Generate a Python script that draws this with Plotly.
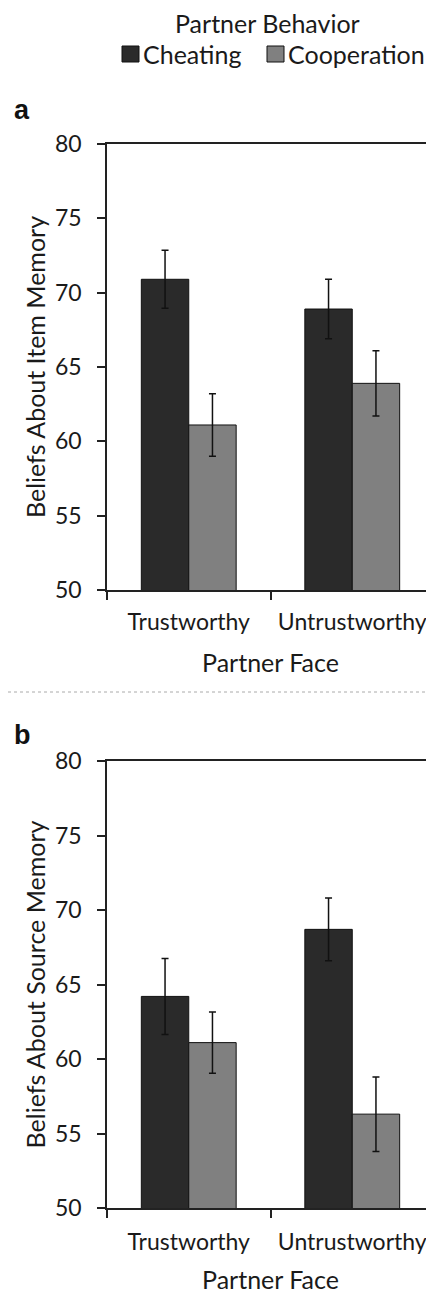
import plotly.graph_objects as go

faces = ["Trustworthy", "Untrustworthy"]
behaviors = ["Cheating", "Cooperation"]

item_cheating = [70.9, 68.9]
item_cheating_err = [1.95, 2.0]
item_coop = [61.1, 63.9]
item_coop_err = [2.1, 2.2]

source_cheating = [64.2, 68.7]
source_cheating_err = [2.55, 2.1]
source_coop = [61.1, 56.3]
source_coop_err = [2.05, 2.5]

y_ticks = [50, 55, 60, 65, 70, 75, 80]

colors = {"Cheating": "#2a2a2a", "Cooperation": "#808080"}
FONT = "Lato"
FS = 25
# page body has an 8px default margin, so the figure is offset by 8px
OFF = 8
W, H = 434 - OFF, 1294 - OFF


def px(x):
    return max(0.0, (x - OFF) / W)


def py(y):
    return 1 - (y - OFF) / H


fig = go.Figure()

panels = [
    ("x", "y", item_cheating, item_cheating_err, item_coop, item_coop_err),
    ("x2", "y2", source_cheating, source_cheating_err, source_coop, source_coop_err),
]
for xa, ya, ch, che, co, coe in panels:
    for name, vals, errs in ((behaviors[0], ch, che), (behaviors[1], co, coe)):
        fig.add_trace(go.Bar(
            x=faces, y=vals, name=name, xaxis=xa, yaxis=ya,
            marker=dict(color=colors[name], line=dict(color="#111111", width=1)),
            error_y=dict(type="data", array=errs, color="#111111", thickness=1.5, width=3.5),
            showlegend=False, legendgroup=name,
        ))

axis_common = dict(showline=True, linecolor="#222222", linewidth=1.5, mirror=True,
                   ticks="outside", ticklen=8, tickcolor="#222222", tickwidth=1.5,
                   showgrid=False, zeroline=False, automargin=False)

xtick_font = dict(family=FONT, size=23, color="#1a1a1a")
ytick_font = dict(family=FONT, size=23, color="#1a1a1a")

xdom = [px(107), 1.0]
ya_dom = [py(590), py(144)]
yb_dom = [py(1208), py(761)]

title_font = dict(family=FONT, size=FS, color="#1a1a1a")

annotations = [
    dict(text="<b>a</b>", x=px(12), y=py(110), xref="paper", yref="paper",
         xanchor="left", yanchor="middle", showarrow=False,
         font=dict(family="Liberation Sans", size=27, color="#111111")),
    dict(text="<b>b</b>", x=px(12), y=py(735), xref="paper", yref="paper",
         xanchor="left", yanchor="middle", showarrow=False,
         font=dict(family="Liberation Sans", size=27, color="#111111")),
    # legend
    dict(text="Partner Behavior", x=px(267), y=py(23), xref="paper", yref="paper",
         xanchor="center", yanchor="middle", showarrow=False, font=title_font),
    dict(text=behaviors[0], x=px(141), y=py(54), xref="paper", yref="paper",
         xanchor="left", yanchor="middle", showarrow=False, font=title_font),
    dict(text=behaviors[1], x=px(286), y=py(54), xref="paper", yref="paper",
         xanchor="left", yanchor="middle", showarrow=False, font=title_font),
]

shapes = [
    dict(type="line", xref="paper", yref="paper", x0=px(3), x1=1.0,
         y0=py(692), y1=py(692),
         line=dict(color="#aaaaaa", width=1, dash="dot")),
    dict(type="rect", xref="paper", yref="paper", x0=px(122), x1=px(139),
         y0=py(62), y1=py(46), fillcolor=colors[behaviors[0]],
         line=dict(color="#111111", width=1)),
    dict(type="rect", xref="paper", yref="paper", x0=px(267), x1=px(284),
         y0=py(62), y1=py(46), fillcolor=colors[behaviors[1]],
         line=dict(color="#111111", width=1)),
]

fig.update_layout(
    width=W, height=H,
    margin=dict(l=0, r=0, t=0, b=0, autoexpand=False),
    paper_bgcolor="white", plot_bgcolor="white",
    barmode="group", bargap=0.42, bargroupgap=0,
    showlegend=False,
    font=dict(family=FONT, size=FS, color="#1a1a1a"),
    xaxis=dict(domain=xdom, anchor="y", tickson="boundaries", tickangle=0,
               tickfont=xtick_font,
               title=dict(text="Partner Face", font=title_font, standoff=20),
               ticklabelstandoff=11, **axis_common),
    yaxis=dict(domain=ya_dom, anchor="x", range=[50, 80], tickvals=y_ticks,
               tickfont=ytick_font,
               title=dict(text="Beliefs About Item Memory", font=title_font, standoff=2),
               ticklabelstandoff=11, **axis_common),
    xaxis2=dict(domain=xdom, anchor="y2", tickson="boundaries", tickangle=0,
                tickfont=xtick_font,
                title=dict(text="Partner Face", font=title_font, standoff=20),
                ticklabelstandoff=13, **axis_common),
    yaxis2=dict(domain=yb_dom, anchor="x2", range=[50, 80], tickvals=y_ticks,
                tickfont=ytick_font,
                title=dict(text="Beliefs About Source Memory", font=title_font, standoff=2),
                ticklabelstandoff=11, **axis_common),
    annotations=annotations,
    shapes=shapes,
)

fig.write_html("out.html")
